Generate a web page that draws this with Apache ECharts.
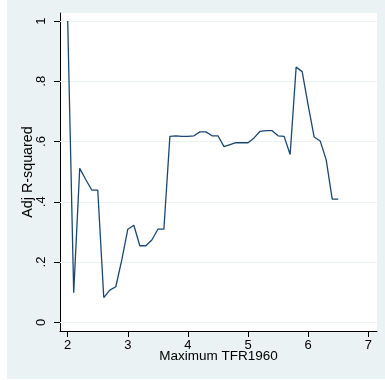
<!DOCTYPE html>
<html><head><meta charset="utf-8">
<script src="https://cdn.jsdelivr.net/npm/echarts@6/dist/echarts.min.js"></script>
<style>html,body{margin:0;padding:0;background:#fff}#c{width:385px;height:380px}</style>
</head><body><div id="c"></div>
<script>
const xValues = [2.0,2.1,2.2,2.3,2.4,2.5,2.6,2.7,2.8,2.9,3.0,3.1,3.2,3.3,3.4,3.5,3.6,3.7,3.8,3.9,4.0,4.1,4.2,4.3,4.4,4.5,4.6,4.7,4.8,4.9,5.0,5.1,5.2,5.3,5.4,5.5,5.6,5.7,5.8,5.9,6.0,6.1,6.2,6.3,6.4,6.5];
const adjR2 = [1.0,0.098,0.511,0.474,0.439,0.439,0.082,0.107,0.118,0.207,0.309,0.322,0.254,0.254,0.273,0.309,0.309,0.617,0.619,0.617,0.617,0.619,0.632,0.632,0.619,0.619,0.583,0.590,0.596,0.596,0.596,0.612,0.634,0.636,0.636,0.619,0.617,0.557,0.847,0.832,0.721,0.615,0.602,0.539,0.409,0.409];
const xTicks = [2,3,4,5,6,7];
const yTicks = [0,0.2,0.4,0.6,0.8,1];
const yTickLabels = ['0','.2','.4','.6','.8','1'];
const xTitle = 'Maximum TFR1960';
const yTitle = 'Adj R-squared';

const chart = echarts.init(document.getElementById('c'), null, {renderer:'canvas'});
const font = 'Liberation Sans, Arial, sans-serif';
chart.setOption({
  animation:false,
  backgroundColor:'#ffffff',
  graphic:[{type:'rect', z:-10, silent:true, shape:{x:7,y:0,width:378,height:379}, style:{fill:'#eaf2f3'}}],
  grid:{left:60, top:13, width:317, height:318, show:true, backgroundColor:'#ffffff', borderWidth:0},
  xAxis:{type:'value', min:1.872, max:7.145,
    axisLine:{onZero:false, lineStyle:{color:'#000', width:1}},
    axisTick:{customValues:xTicks, length:6, lineStyle:{color:'#000'}},
    axisLabel:{customValues:xTicks, margin:8, color:'#000', fontSize:13, fontFamily:font},
    splitLine:{show:false},
    name:xTitle, nameLocation:'middle', nameGap:18, nameMoveOverlap:false,
    nameTextStyle:{color:'#000', fontSize:13.5, fontFamily:font}},
  yAxis:{type:'value', min:-0.0289, max:1.0266,
    axisLine:{show:true, onZero:false, lineStyle:{color:'#000', width:1}},
    axisTick:{show:true, customValues:yTicks, length:6, lineStyle:{color:'#000'}},
    axisLabel:{customValues:yTicks, rotate:90, margin:12, color:'#000', fontSize:13, fontFamily:font,
      formatter:(v)=>{const i=yTicks.findIndex(t=>Math.abs(t-v)<1e-9); return i>=0?yTickLabels[i]:'';}},
    splitLine:{show:false},
    name:yTitle, nameLocation:'middle', nameGap:25, nameRotate:90, nameMoveOverlap:false,
    nameTextStyle:{color:'#000', fontSize:14.3, fontFamily:font}},
  series:[
    {type:'line', data:[], z:1, silent:true,
      markLine:{silent:true, symbol:'none', label:{show:false}, animation:false,
        lineStyle:{color:'#eaf2f3', width:1, type:'solid'},
        data:yTicks.map(v=>({yAxis:v}))}},
    {type:'line', z:5, data:xValues.map((x,i)=>[x,adjR2[i]]), showSymbol:false, symbol:'none',
      lineStyle:{color:'#1a476f', width:1.3}}
  ]
});
</script></body></html>
